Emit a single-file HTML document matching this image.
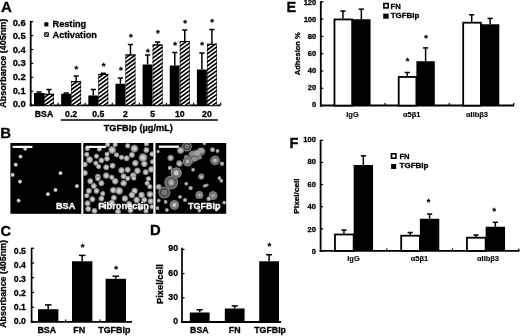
<!DOCTYPE html>
<html><head><meta charset="utf-8"><style>
html,body{margin:0;padding:0;background:#fff;}
body{width:520px;height:336px;overflow:hidden;font-family:"Liberation Sans",sans-serif;}
svg{display:block;}
</style></head><body>
<svg width="520" height="336" viewBox="0 0 520 336">
<defs>
<pattern id="hatch" width="2.9" height="2.9" patternUnits="userSpaceOnUse" patternTransform="rotate(-50)"><rect width="2.9" height="2.9" fill="#fff"/><rect width="2.9" height="1.6" fill="#000"/></pattern>
<pattern id="hatch2" width="2" height="2" patternUnits="userSpaceOnUse" patternTransform="rotate(-45)"><rect width="2" height="2" fill="#fff"/><rect width="2" height="1" fill="#000"/></pattern>
<radialGradient id="cg0"><stop offset="0" stop-color="#e4e4e4"/><stop offset="0.45" stop-color="#d0d0d0"/><stop offset="0.8" stop-color="#707070"/><stop offset="1" stop-color="#606060" stop-opacity="0"/></radialGradient>
<radialGradient id="cg1"><stop offset="0" stop-color="#d8d8d8"/><stop offset="0.4" stop-color="#c0c0c0"/><stop offset="0.75" stop-color="#7c7c7c"/><stop offset="1" stop-color="#6c6c6c" stop-opacity="0"/></radialGradient>
<radialGradient id="cg2"><stop offset="0" stop-color="#cccccc"/><stop offset="0.4" stop-color="#b0b0b0"/><stop offset="0.75" stop-color="#707070"/><stop offset="1" stop-color="#6c6c6c" stop-opacity="0"/></radialGradient>
<filter id="b1" x="-50%" y="-50%" width="200%" height="200%"><feGaussianBlur stdDeviation="0.7"/></filter>
<filter id="b2" x="-50%" y="-50%" width="200%" height="200%"><feGaussianBlur stdDeviation="0.6"/></filter>
</defs>
<rect width="520" height="336" fill="#fff"/>
<g opacity="0.999">
<text x="1" y="11.9" font-size="15" text-anchor="start" fill="#000" stroke="#000" font-family="Liberation Sans, sans-serif" font-weight="bold" stroke-linejoin="round"  stroke-width="0.3">A</text>
<line x1="30.7" y1="20.8" x2="30.7" y2="106.2" stroke="#000" stroke-width="1.8"/>
<line x1="29.8" y1="105.3" x2="220.5" y2="105.3" stroke="#000" stroke-width="1.8"/>
<line x1="30.7" y1="105.1" x2="33.2" y2="105.1" stroke="#000" stroke-width="1.2"/>
<text transform="translate(25.7,107.35) scale(1.08,1)" font-size="8.7" text-anchor="end" fill="#000" stroke="#000" font-family="Liberation Sans, sans-serif" font-weight="bold" stroke-linejoin="round"  stroke-width="0.3">0.0</text>
<line x1="30.7" y1="91.19999999999999" x2="33.2" y2="91.19999999999999" stroke="#000" stroke-width="1.2"/>
<text transform="translate(25.7,93.71) scale(1.08,1)" font-size="8.7" text-anchor="end" fill="#000" stroke="#000" font-family="Liberation Sans, sans-serif" font-weight="bold" stroke-linejoin="round"  stroke-width="0.3">0.1</text>
<line x1="30.7" y1="77.3" x2="33.2" y2="77.3" stroke="#000" stroke-width="1.2"/>
<text transform="translate(25.7,80.07) scale(1.08,1)" font-size="8.7" text-anchor="end" fill="#000" stroke="#000" font-family="Liberation Sans, sans-serif" font-weight="bold" stroke-linejoin="round"  stroke-width="0.3">0.2</text>
<line x1="30.7" y1="63.4" x2="33.2" y2="63.4" stroke="#000" stroke-width="1.2"/>
<text transform="translate(25.7,66.42999999999999) scale(1.08,1)" font-size="8.7" text-anchor="end" fill="#000" stroke="#000" font-family="Liberation Sans, sans-serif" font-weight="bold" stroke-linejoin="round"  stroke-width="0.3">0.3</text>
<line x1="30.7" y1="49.49999999999999" x2="33.2" y2="49.49999999999999" stroke="#000" stroke-width="1.2"/>
<text transform="translate(25.7,52.78999999999999) scale(1.08,1)" font-size="8.7" text-anchor="end" fill="#000" stroke="#000" font-family="Liberation Sans, sans-serif" font-weight="bold" stroke-linejoin="round"  stroke-width="0.3">0.4</text>
<line x1="30.7" y1="35.599999999999994" x2="33.2" y2="35.599999999999994" stroke="#000" stroke-width="1.2"/>
<text transform="translate(25.7,39.14999999999999) scale(1.08,1)" font-size="8.7" text-anchor="end" fill="#000" stroke="#000" font-family="Liberation Sans, sans-serif" font-weight="bold" stroke-linejoin="round"  stroke-width="0.3">0.5</text>
<line x1="30.7" y1="21.700000000000003" x2="33.2" y2="21.700000000000003" stroke="#000" stroke-width="1.2"/>
<text transform="translate(25.7,25.50999999999999) scale(1.08,1)" font-size="8.7" text-anchor="end" fill="#000" stroke="#000" font-family="Liberation Sans, sans-serif" font-weight="bold" stroke-linejoin="round"  stroke-width="0.3">0.6</text>
<text transform="translate(6.2,63.3) rotate(-90) scale(1,1)" font-size="9.0" text-anchor="middle" fill="#000" stroke="#000" stroke-width="0.3" font-family="Liberation Sans, sans-serif" font-weight="bold" stroke-linejoin="round">Absorbance (405nm)</text>
<rect x="34.00" y="93.00" width="10.00" height="12.30" fill="#000"/>
<line x1="39.0" y1="92" x2="39.0" y2="93" stroke="#000" stroke-width="1.5"/>
<line x1="36.4" y1="92" x2="41.6" y2="92" stroke="#000" stroke-width="1.5"/>
<clipPath id="hb0"><rect x="44.00" y="93.75" width="10.00" height="11.55"/></clipPath>
<rect x="44.00" y="93.75" width="10.00" height="11.55" fill="#fff"/>
<path d="M3.83 103.13L54.88 66.04M5.71 105.72L56.76 68.63M7.59 108.31L58.64 71.22M9.47 110.90L60.52 73.81M11.35 113.49L62.40 76.40M13.23 116.08L64.28 78.99M15.11 118.67L66.16 81.58M16.99 121.26L68.04 84.17M18.88 123.84L69.92 86.76M20.76 126.43L71.81 89.34M22.64 129.02L73.69 91.93M24.52 131.61L75.57 94.52M26.40 134.20L77.45 97.11M28.28 136.79L79.33 99.70M30.16 139.38L81.21 102.29M32.04 141.97L83.09 104.88" stroke="#000" stroke-width="1.65" fill="none" clip-path="url(#hb0)"/>
<rect x="44.40" y="94.25" width="9.20" height="11.05" fill="none" stroke="#000" stroke-width="0.5"/>
<line x1="44.00" y1="94.25" x2="54.00" y2="94.25" stroke="#000" stroke-width="1.1"/>
<line x1="49.0" y1="89.5" x2="49.0" y2="93.75" stroke="#000" stroke-width="1.5"/>
<line x1="46.4" y1="89.5" x2="51.6" y2="89.5" stroke="#000" stroke-width="1.5"/>
<text x="44.0" y="116.7" font-size="8.7" text-anchor="middle" fill="#000" stroke="#000" font-family="Liberation Sans, sans-serif" font-weight="bold" stroke-linejoin="round"  stroke-width="0.3">BSA</text>
<rect x="61.15" y="93.75" width="10.00" height="11.55" fill="#000"/>
<line x1="66.15" y1="93" x2="66.15" y2="93.75" stroke="#000" stroke-width="1.5"/>
<line x1="63.550000000000004" y1="93" x2="68.75" y2="93" stroke="#000" stroke-width="1.5"/>
<clipPath id="hb1"><rect x="71.15" y="81.25" width="10.00" height="24.05"/></clipPath>
<rect x="71.15" y="81.25" width="10.00" height="24.05" fill="#fff"/>
<path d="M15.22 102.71L86.50 50.93M17.10 105.30L88.38 53.52M18.98 107.89L90.26 56.11M20.87 110.48L92.14 58.70M22.75 113.07L94.02 61.29M24.63 115.66L95.90 63.87M26.51 118.25L97.78 66.46M28.39 120.84L99.66 69.05M30.27 123.43L101.54 71.64M32.15 126.01L103.43 74.23M34.03 128.60L105.31 76.82M35.91 131.19L107.19 79.41M37.79 133.78L109.07 82.00M39.67 136.37L110.95 84.59M41.56 138.96L112.83 87.17M43.44 141.55L114.71 89.76M45.32 144.14L116.59 92.35M47.20 146.73L118.47 94.94M49.08 149.31L120.35 97.53M50.96 151.90L122.23 100.12M52.84 154.49L124.12 102.71M54.72 157.08L126.00 105.30" stroke="#000" stroke-width="1.65" fill="none" clip-path="url(#hb1)"/>
<rect x="71.55" y="81.75" width="9.20" height="23.55" fill="none" stroke="#000" stroke-width="0.5"/>
<line x1="71.15" y1="81.75" x2="81.15" y2="81.75" stroke="#000" stroke-width="1.1"/>
<line x1="76.15" y1="76" x2="76.15" y2="81.25" stroke="#000" stroke-width="1.5"/>
<line x1="73.55000000000001" y1="76" x2="78.75" y2="76" stroke="#000" stroke-width="1.5"/>
<text x="76.45" y="71.925" font-size="9.5" text-anchor="middle" fill="#000" stroke="#000" font-family="Liberation Sans, sans-serif" font-weight="bold" stroke-linejoin="round"  stroke-width="0.3">*</text>
<text x="71.15" y="116.7" font-size="8.7" text-anchor="middle" fill="#000" stroke="#000" font-family="Liberation Sans, sans-serif" font-weight="bold" stroke-linejoin="round"  stroke-width="0.3">0.2</text>
<rect x="88.30" y="95.50" width="10.00" height="9.80" fill="#000"/>
<line x1="93.3" y1="89.5" x2="93.3" y2="95.5" stroke="#000" stroke-width="1.5"/>
<line x1="90.7" y1="89.5" x2="95.89999999999999" y2="89.5" stroke="#000" stroke-width="1.5"/>
<clipPath id="hb2"><rect x="98.30" y="74.00" width="10.00" height="31.30"/></clipPath>
<rect x="98.30" y="74.00" width="10.00" height="31.30" fill="#fff"/>
<path d="M32.75 101.80L115.75 41.49M34.63 104.39L117.63 44.08M36.51 106.98L119.51 46.67M38.39 109.56L121.39 49.26M40.27 112.15L123.27 51.85M42.15 114.74L125.16 54.44M44.03 117.33L127.04 57.02M45.91 119.92L128.92 59.61M47.79 122.51L130.80 62.20M49.67 125.10L132.68 64.79M51.55 127.69L134.56 67.38M53.44 130.28L136.44 69.97M55.32 132.86L138.32 72.56M57.20 135.45L140.20 75.15M59.08 138.04L142.08 77.74M60.96 140.63L143.96 80.32M62.84 143.22L145.85 82.91M64.72 145.81L147.73 85.50M66.60 148.40L149.61 88.09M68.48 150.99L151.49 90.68M70.36 153.58L153.37 93.27M72.24 156.16L155.25 95.86M74.13 158.75L157.13 98.45M76.01 161.34L159.01 101.04M77.89 163.93L160.89 103.62M79.77 166.52L162.77 106.21" stroke="#000" stroke-width="1.65" fill="none" clip-path="url(#hb2)"/>
<rect x="98.70" y="74.50" width="9.20" height="30.80" fill="none" stroke="#000" stroke-width="0.5"/>
<line x1="98.30" y1="74.50" x2="108.30" y2="74.50" stroke="#000" stroke-width="1.1"/>
<line x1="103.3" y1="73.3" x2="103.3" y2="74" stroke="#000" stroke-width="1.5"/>
<line x1="100.7" y1="73.3" x2="105.89999999999999" y2="73.3" stroke="#000" stroke-width="1.5"/>
<text x="103.6" y="68.925" font-size="9.5" text-anchor="middle" fill="#000" stroke="#000" font-family="Liberation Sans, sans-serif" font-weight="bold" stroke-linejoin="round"  stroke-width="0.3">*</text>
<text x="98.3" y="116.7" font-size="8.7" text-anchor="middle" fill="#000" stroke="#000" font-family="Liberation Sans, sans-serif" font-weight="bold" stroke-linejoin="round"  stroke-width="0.3">0.5</text>
<rect x="115.45" y="83.75" width="10.00" height="21.55" fill="#000"/>
<line x1="120.44999999999999" y1="78" x2="120.44999999999999" y2="83.75" stroke="#000" stroke-width="1.5"/>
<line x1="117.85" y1="78" x2="123.04999999999998" y2="78" stroke="#000" stroke-width="1.5"/>
<clipPath id="hb3"><rect x="125.45" y="54.50" width="10.00" height="50.80"/></clipPath>
<rect x="125.45" y="54.50" width="10.00" height="50.80" fill="#fff"/>
<path d="M34.72 100.32L149.27 17.09M36.60 102.90L151.15 19.67M38.48 105.49L153.03 22.26M40.36 108.08L154.91 24.85M42.24 110.67L156.80 27.44M44.12 113.26L158.68 30.03M46.00 115.85L160.56 32.62M47.88 118.44L162.44 35.21M49.76 121.03L164.32 37.80M51.64 123.62L166.20 40.39M53.52 126.20L168.08 42.97M55.41 128.79L169.96 45.56M57.29 131.38L171.84 48.15M59.17 133.97L173.72 50.74M61.05 136.56L175.60 53.33M62.93 139.15L177.49 55.92M64.81 141.74L179.37 58.51M66.69 144.33L181.25 61.10M68.57 146.92L183.13 63.68M70.45 149.50L185.01 66.27M72.33 152.09L186.89 68.86M74.21 154.68L188.77 71.45M76.10 157.27L190.65 74.04M77.98 159.86L192.53 76.63M79.86 162.45L194.41 79.22M81.74 165.04L196.29 81.81M83.62 167.63L198.18 84.40M85.50 170.21L200.06 86.98M87.38 172.80L201.94 89.57M89.26 175.39L203.82 92.16M91.14 177.98L205.70 94.75M93.02 180.57L207.58 97.34M94.90 183.16L209.46 99.93M96.79 185.75L211.34 102.52M98.67 188.34L213.22 105.11M100.55 190.93L215.10 107.70" stroke="#000" stroke-width="1.65" fill="none" clip-path="url(#hb3)"/>
<rect x="125.85" y="55.00" width="9.20" height="50.30" fill="none" stroke="#000" stroke-width="0.5"/>
<line x1="125.45" y1="55.00" x2="135.45" y2="55.00" stroke="#000" stroke-width="1.1"/>
<line x1="130.45" y1="44.5" x2="130.45" y2="54.5" stroke="#000" stroke-width="1.5"/>
<line x1="127.85" y1="44.5" x2="133.04999999999998" y2="44.5" stroke="#000" stroke-width="1.5"/>
<text x="120.74999999999999" y="73.425" font-size="9.5" text-anchor="middle" fill="#000" stroke="#000" font-family="Liberation Sans, sans-serif" font-weight="bold" stroke-linejoin="round"  stroke-width="0.3">*</text>
<text x="130.75" y="39.925000000000004" font-size="9.5" text-anchor="middle" fill="#000" stroke="#000" font-family="Liberation Sans, sans-serif" font-weight="bold" stroke-linejoin="round"  stroke-width="0.3">*</text>
<text x="125.44999999999999" y="116.7" font-size="8.7" text-anchor="middle" fill="#000" stroke="#000" font-family="Liberation Sans, sans-serif" font-weight="bold" stroke-linejoin="round"  stroke-width="0.3">2</text>
<rect x="142.60" y="64.50" width="10.00" height="40.80" fill="#000"/>
<line x1="147.6" y1="55" x2="147.6" y2="64.5" stroke="#000" stroke-width="1.5"/>
<line x1="145.0" y1="55" x2="150.2" y2="55" stroke="#000" stroke-width="1.5"/>
<clipPath id="hb4"><rect x="152.60" y="44.50" width="10.00" height="60.80"/></clipPath>
<rect x="152.60" y="44.50" width="10.00" height="60.80" fill="#fff"/>
<path d="M48.13 98.43L178.87 3.44M50.01 101.02L180.75 6.03M51.89 103.60L182.63 8.62M53.77 106.19L184.51 11.21M55.66 108.78L186.39 13.80M57.54 111.37L188.27 16.39M59.42 113.96L190.15 18.97M61.30 116.55L192.04 21.56M63.18 119.14L193.92 24.15M65.06 121.73L195.80 26.74M66.94 124.32L197.68 29.33M68.82 126.90L199.56 31.92M70.70 129.49L201.44 34.51M72.58 132.08L203.32 37.10M74.47 134.67L205.20 39.68M76.35 137.26L207.08 42.27M78.23 139.85L208.96 44.86M80.11 142.44L210.84 47.45M81.99 145.03L212.73 50.04M83.87 147.62L214.61 52.63M85.75 150.20L216.49 55.22M87.63 152.79L218.37 57.81M89.51 155.38L220.25 60.40M91.39 157.97L222.13 62.98M93.27 160.56L224.01 65.57M95.16 163.15L225.89 68.16M97.04 165.74L227.77 70.75M98.92 168.33L229.65 73.34M100.80 170.92L231.53 75.93M102.68 173.50L233.42 78.52M104.56 176.09L235.30 81.11M106.44 178.68L237.18 83.70M108.32 181.27L239.06 86.28M110.20 183.86L240.94 88.87M112.08 186.45L242.82 91.46M113.96 189.04L244.70 94.05M115.85 191.63L246.58 96.64M117.73 194.21L248.46 99.23M119.61 196.80L250.34 101.82M121.49 199.39L252.23 104.41M123.37 201.98L254.11 107.00M125.25 204.57L255.99 109.58" stroke="#000" stroke-width="1.65" fill="none" clip-path="url(#hb4)"/>
<rect x="153.00" y="45.00" width="9.20" height="60.30" fill="none" stroke="#000" stroke-width="0.5"/>
<line x1="152.60" y1="45.00" x2="162.60" y2="45.00" stroke="#000" stroke-width="1.1"/>
<line x1="157.6" y1="42" x2="157.6" y2="44.5" stroke="#000" stroke-width="1.5"/>
<line x1="155.0" y1="42" x2="160.2" y2="42" stroke="#000" stroke-width="1.5"/>
<text x="147.9" y="54.925000000000004" font-size="9.5" text-anchor="middle" fill="#000" stroke="#000" font-family="Liberation Sans, sans-serif" font-weight="bold" stroke-linejoin="round"  stroke-width="0.3">*</text>
<text x="157.9" y="36.425000000000004" font-size="9.5" text-anchor="middle" fill="#000" stroke="#000" font-family="Liberation Sans, sans-serif" font-weight="bold" stroke-linejoin="round"  stroke-width="0.3">*</text>
<text x="152.6" y="116.7" font-size="8.7" text-anchor="middle" fill="#000" stroke="#000" font-family="Liberation Sans, sans-serif" font-weight="bold" stroke-linejoin="round"  stroke-width="0.3">5</text>
<rect x="169.75" y="65.50" width="10.00" height="39.80" fill="#000"/>
<line x1="174.75" y1="52.5" x2="174.75" y2="65.5" stroke="#000" stroke-width="1.5"/>
<line x1="172.15" y1="52.5" x2="177.35" y2="52.5" stroke="#000" stroke-width="1.5"/>
<clipPath id="hb5"><rect x="179.75" y="41.00" width="10.00" height="64.30"/></clipPath>
<rect x="179.75" y="41.00" width="10.00" height="64.30" fill="#fff"/>
<path d="M70.57 97.90L206.97 -1.21M72.45 100.48L208.85 1.38M74.33 103.07L210.73 3.97M76.21 105.66L212.61 6.56M78.09 108.25L214.49 9.15M79.97 110.84L216.37 11.74M81.86 113.43L218.26 14.33M83.74 116.02L220.14 16.92M85.62 118.61L222.02 19.51M87.50 121.20L223.90 22.09M89.38 123.78L225.78 24.68M91.26 126.37L227.66 27.27M93.14 128.96L229.54 29.86M95.02 131.55L231.42 32.45M96.90 134.14L233.30 35.04M98.78 136.73L235.18 37.63M100.66 139.32L237.06 40.22M102.55 141.91L238.95 42.81M104.43 144.49L240.83 45.39M106.31 147.08L242.71 47.98M108.19 149.67L244.59 50.57M110.07 152.26L246.47 53.16M111.95 154.85L248.35 55.75M113.83 157.44L250.23 58.34M115.71 160.03L252.11 60.93M117.59 162.62L253.99 63.52M119.47 165.21L255.87 66.11M121.35 167.79L257.75 68.69M123.24 170.38L259.64 71.28M125.12 172.97L261.52 73.87M127.00 175.56L263.40 76.46M128.88 178.15L265.28 79.05M130.76 180.74L267.16 81.64M132.64 183.33L269.04 84.23M134.52 185.92L270.92 86.82M136.40 188.51L272.80 89.40M138.28 191.09L274.68 91.99M140.16 193.68L276.56 94.58M142.04 196.27L278.44 97.17M143.93 198.86L280.33 99.76M145.81 201.45L282.21 102.35M147.69 204.04L284.09 104.94M149.57 206.63L285.97 107.53M151.45 209.22L287.85 110.12" stroke="#000" stroke-width="1.65" fill="none" clip-path="url(#hb5)"/>
<rect x="180.15" y="41.50" width="9.20" height="63.80" fill="none" stroke="#000" stroke-width="0.5"/>
<line x1="179.75" y1="41.50" x2="189.75" y2="41.50" stroke="#000" stroke-width="1.1"/>
<line x1="184.75" y1="30" x2="184.75" y2="41" stroke="#000" stroke-width="1.5"/>
<line x1="182.15" y1="30" x2="187.35" y2="30" stroke="#000" stroke-width="1.5"/>
<text x="175.05" y="48.425000000000004" font-size="9.5" text-anchor="middle" fill="#000" stroke="#000" font-family="Liberation Sans, sans-serif" font-weight="bold" stroke-linejoin="round"  stroke-width="0.3">*</text>
<text x="185.05" y="25.925" font-size="9.5" text-anchor="middle" fill="#000" stroke="#000" font-family="Liberation Sans, sans-serif" font-weight="bold" stroke-linejoin="round"  stroke-width="0.3">*</text>
<text x="179.75" y="116.7" font-size="8.7" text-anchor="middle" fill="#000" stroke="#000" font-family="Liberation Sans, sans-serif" font-weight="bold" stroke-linejoin="round"  stroke-width="0.3">10</text>
<rect x="196.90" y="69.50" width="10.00" height="35.80" fill="#000"/>
<line x1="201.89999999999998" y1="53" x2="201.89999999999998" y2="69.5" stroke="#000" stroke-width="1.5"/>
<line x1="199.29999999999998" y1="53" x2="204.49999999999997" y2="53" stroke="#000" stroke-width="1.5"/>
<clipPath id="hb6"><rect x="206.90" y="43.75" width="10.00" height="61.55"/></clipPath>
<rect x="206.90" y="43.75" width="10.00" height="61.55" fill="#fff"/>
<path d="M101.83 98.87L233.78 3.00M103.71 101.46L235.66 5.59M105.59 104.05L237.54 8.18M107.47 106.63L239.42 10.77M109.35 109.22L241.30 13.36M111.23 111.81L243.18 15.94M113.11 114.40L245.06 18.53M114.99 116.99L246.94 21.12M116.87 119.58L248.82 23.71M118.75 122.17L250.70 26.30M120.63 124.76L252.59 28.89M122.52 127.35L254.47 31.48M124.40 129.93L256.35 34.07M126.28 132.52L258.23 36.66M128.16 135.11L260.11 39.24M130.04 137.70L261.99 41.83M131.92 140.29L263.87 44.42M133.80 142.88L265.75 47.01M135.68 145.47L267.63 49.60M137.56 148.06L269.51 52.19M139.44 150.65L271.39 54.78M141.32 153.23L273.28 57.37M143.21 155.82L275.16 59.95M145.09 158.41L277.04 62.54M146.97 161.00L278.92 65.13M148.85 163.59L280.80 67.72M150.73 166.18L282.68 70.31M152.61 168.77L284.56 72.90M154.49 171.36L286.44 75.49M156.37 173.94L288.32 78.08M158.25 176.53L290.20 80.67M160.13 179.12L292.08 83.25M162.01 181.71L293.97 85.84M163.90 184.30L295.85 88.43M165.78 186.89L297.73 91.02M167.66 189.48L299.61 93.61M169.54 192.07L301.49 96.20M171.42 194.66L303.37 98.79M173.30 197.24L305.25 101.38M175.18 199.83L307.13 103.97M177.06 202.42L309.01 106.55M178.94 205.01L310.89 109.14" stroke="#000" stroke-width="1.65" fill="none" clip-path="url(#hb6)"/>
<rect x="207.30" y="44.25" width="9.20" height="61.05" fill="none" stroke="#000" stroke-width="0.5"/>
<line x1="206.90" y1="44.25" x2="216.90" y2="44.25" stroke="#000" stroke-width="1.1"/>
<line x1="211.89999999999998" y1="29.5" x2="211.89999999999998" y2="43.75" stroke="#000" stroke-width="1.5"/>
<line x1="209.29999999999998" y1="29.5" x2="214.49999999999997" y2="29.5" stroke="#000" stroke-width="1.5"/>
<text x="202.2" y="48.425000000000004" font-size="9.5" text-anchor="middle" fill="#000" stroke="#000" font-family="Liberation Sans, sans-serif" font-weight="bold" stroke-linejoin="round"  stroke-width="0.3">*</text>
<text x="212.2" y="24.925" font-size="9.5" text-anchor="middle" fill="#000" stroke="#000" font-family="Liberation Sans, sans-serif" font-weight="bold" stroke-linejoin="round"  stroke-width="0.3">*</text>
<text x="206.89999999999998" y="116.7" font-size="8.7" text-anchor="middle" fill="#000" stroke="#000" font-family="Liberation Sans, sans-serif" font-weight="bold" stroke-linejoin="round"  stroke-width="0.3">20</text>
<line x1="31.0" y1="105.3" x2="31.0" y2="102.8" stroke="#000" stroke-width="1.2"/>
<line x1="58.1" y1="105.3" x2="58.1" y2="102.8" stroke="#000" stroke-width="1.2"/>
<line x1="85.2" y1="105.3" x2="85.2" y2="102.8" stroke="#000" stroke-width="1.2"/>
<line x1="112.30000000000001" y1="105.3" x2="112.30000000000001" y2="102.8" stroke="#000" stroke-width="1.2"/>
<line x1="139.4" y1="105.3" x2="139.4" y2="102.8" stroke="#000" stroke-width="1.2"/>
<line x1="166.5" y1="105.3" x2="166.5" y2="102.8" stroke="#000" stroke-width="1.2"/>
<line x1="193.60000000000002" y1="105.3" x2="193.60000000000002" y2="102.8" stroke="#000" stroke-width="1.2"/>
<line x1="220.70000000000002" y1="105.3" x2="220.70000000000002" y2="102.8" stroke="#000" stroke-width="1.2"/>
<line x1="61" y1="120.0" x2="218" y2="120.0" stroke="#000" stroke-width="1.5"/>
<text x="138.3" y="131" font-size="9.2" text-anchor="middle" fill="#000" stroke="#000" font-family="Liberation Sans, sans-serif" font-weight="bold" stroke-linejoin="round"  stroke-width="0.3">TGFBIp (µg/mL)</text>
<rect x="44.30" y="22.30" width="4.10" height="4.10" fill="#000"/>
<text x="52.5" y="27.3" font-size="9.2" text-anchor="start" fill="#000" stroke="#000" font-family="Liberation Sans, sans-serif" font-weight="bold" stroke-linejoin="round"  stroke-width="0.3">Resting</text>
<rect x="44.70" y="32.70" width="3.70" height="3.70" fill="url(#hatch2)" stroke="#000" stroke-width="0.8"/>
<text x="52.5" y="37.6" font-size="9.2" text-anchor="start" fill="#000" stroke="#000" font-family="Liberation Sans, sans-serif" font-weight="bold" stroke-linejoin="round"  stroke-width="0.3">Activation</text>
<text x="0.2" y="138.2" font-size="15" text-anchor="start" fill="#000" stroke="#000" font-family="Liberation Sans, sans-serif" font-weight="bold" stroke-linejoin="round"  stroke-width="0.3">B</text>
<clipPath id="cp0"><rect x="10.4" y="143" width="70.9" height="70.8"/></clipPath>
<rect x="10.40" y="143.00" width="70.90" height="70.80" fill="#000"/>
<clipPath id="cp1"><rect x="83.3" y="143" width="70" height="70.8"/></clipPath>
<rect x="83.30" y="143.00" width="70.00" height="70.80" fill="#000"/>
<clipPath id="cp2"><rect x="155.5" y="143" width="70.7" height="70.8"/></clipPath>
<rect x="155.50" y="143.00" width="70.70" height="70.80" fill="#000"/>
<circle cx="25.2" cy="148.7" r="2.42" fill="url(#cg0)" clip-path="url(#cp0)"/>
<circle cx="20.5" cy="156.6" r="2.42" fill="url(#cg0)" clip-path="url(#cp0)"/>
<circle cx="15.7" cy="164.7" r="2.42" fill="url(#cg0)" clip-path="url(#cp0)"/>
<circle cx="12.6" cy="174.9" r="2.42" fill="url(#cg0)" clip-path="url(#cp0)"/>
<circle cx="20" cy="181.6" r="2.42" fill="url(#cg0)" clip-path="url(#cp0)"/>
<circle cx="60.5" cy="173.2" r="2.42" fill="url(#cg0)" clip-path="url(#cp0)"/>
<circle cx="76.9" cy="186.1" r="2.42" fill="url(#cg0)" clip-path="url(#cp0)"/>
<circle cx="55.5" cy="189.9" r="2.42" fill="url(#cg0)" clip-path="url(#cp0)"/>
<circle cx="47.9" cy="194.2" r="2.42" fill="url(#cg0)" clip-path="url(#cp0)"/>
<circle cx="18.6" cy="200.6" r="2.42" fill="url(#cg0)" clip-path="url(#cp0)"/>
<circle cx="87.3" cy="148.6" r="2.99" fill="url(#cg1)" clip-path="url(#cp1)"/>
<circle cx="99.3" cy="149" r="2.99" fill="url(#cg1)" clip-path="url(#cp1)"/>
<circle cx="112.2" cy="150" r="4.49" fill="url(#cg1)" clip-path="url(#cp1)"/>
<circle cx="107.6" cy="144.5" r="2.99" fill="url(#cg1)" clip-path="url(#cp1)"/>
<circle cx="115.2" cy="144.5" r="2.99" fill="url(#cg1)" clip-path="url(#cp1)"/>
<circle cx="127.7" cy="145.8" r="2.99" fill="url(#cg1)" clip-path="url(#cp1)"/>
<circle cx="134.4" cy="148.6" r="4.49" fill="url(#cg1)" clip-path="url(#cp1)"/>
<circle cx="146.4" cy="143.8" r="2.99" fill="url(#cg1)" clip-path="url(#cp1)"/>
<circle cx="146.4" cy="150" r="3.44" fill="url(#cg1)" clip-path="url(#cp1)"/>
<circle cx="152" cy="154" r="2.99" fill="url(#cg1)" clip-path="url(#cp1)"/>
<circle cx="86.8" cy="154.4" r="2.99" fill="url(#cg1)" clip-path="url(#cp1)"/>
<circle cx="96.5" cy="156.2" r="2.99" fill="url(#cg1)" clip-path="url(#cp1)"/>
<circle cx="107" cy="154.2" r="2.99" fill="url(#cg1)" clip-path="url(#cp1)"/>
<circle cx="116.6" cy="154.9" r="2.99" fill="url(#cg1)" clip-path="url(#cp1)"/>
<circle cx="121.5" cy="157.3" r="2.99" fill="url(#cg1)" clip-path="url(#cp1)"/>
<circle cx="126.6" cy="158.3" r="3.44" fill="url(#cg1)" clip-path="url(#cp1)"/>
<circle cx="131.9" cy="154.9" r="3.44" fill="url(#cg1)" clip-path="url(#cp1)"/>
<circle cx="143" cy="157.6" r="4.93" fill="url(#cg1)" clip-path="url(#cp1)"/>
<circle cx="89.6" cy="159.7" r="4.04" fill="url(#cg1)" clip-path="url(#cp1)"/>
<circle cx="101.4" cy="160.4" r="3.29" fill="url(#cg1)" clip-path="url(#cp1)"/>
<circle cx="107" cy="158.7" r="3.29" fill="url(#cg1)" clip-path="url(#cp1)"/>
<circle cx="84.8" cy="164.5" r="3.29" fill="url(#cg1)" clip-path="url(#cp1)"/>
<circle cx="95.9" cy="163.2" r="2.99" fill="url(#cg1)" clip-path="url(#cp1)"/>
<circle cx="98.6" cy="166.6" r="2.99" fill="url(#cg1)" clip-path="url(#cp1)"/>
<circle cx="106.2" cy="167.3" r="3.44" fill="url(#cg1)" clip-path="url(#cp1)"/>
<circle cx="112.5" cy="165.7" r="3.44" fill="url(#cg1)" clip-path="url(#cp1)"/>
<circle cx="135.3" cy="163.2" r="3.74" fill="url(#cg1)" clip-path="url(#cp1)"/>
<circle cx="144.3" cy="163.9" r="3.74" fill="url(#cg1)" clip-path="url(#cp1)"/>
<circle cx="152.6" cy="161.8" r="2.99" fill="url(#cg1)" clip-path="url(#cp1)"/>
<circle cx="121.5" cy="170.4" r="3.74" fill="url(#cg1)" clip-path="url(#cp1)"/>
<circle cx="127.7" cy="169.8" r="3.44" fill="url(#cg1)" clip-path="url(#cp1)"/>
<circle cx="137.4" cy="170.8" r="3.74" fill="url(#cg1)" clip-path="url(#cp1)"/>
<circle cx="145.7" cy="172.2" r="3.44" fill="url(#cg1)" clip-path="url(#cp1)"/>
<circle cx="151.3" cy="169.4" r="3.74" fill="url(#cg1)" clip-path="url(#cp1)"/>
<circle cx="84.8" cy="172.9" r="3.44" fill="url(#cg1)" clip-path="url(#cp1)"/>
<circle cx="97.9" cy="176.7" r="3.44" fill="url(#cg1)" clip-path="url(#cp1)"/>
<circle cx="106.2" cy="175.6" r="3.74" fill="url(#cg1)" clip-path="url(#cp1)"/>
<circle cx="111.8" cy="177.3" r="2.99" fill="url(#cg1)" clip-path="url(#cp1)"/>
<circle cx="123.6" cy="176.3" r="3.44" fill="url(#cg1)" clip-path="url(#cp1)"/>
<circle cx="133.2" cy="175.6" r="3.74" fill="url(#cg1)" clip-path="url(#cp1)"/>
<circle cx="90.3" cy="181.2" r="3.44" fill="url(#cg1)" clip-path="url(#cp1)"/>
<circle cx="97.9" cy="178.7" r="2.99" fill="url(#cg1)" clip-path="url(#cp1)"/>
<circle cx="101.4" cy="183.2" r="3.44" fill="url(#cg1)" clip-path="url(#cp1)"/>
<circle cx="115.2" cy="181.2" r="3.74" fill="url(#cg1)" clip-path="url(#cp1)"/>
<circle cx="123.6" cy="183.2" r="3.74" fill="url(#cg1)" clip-path="url(#cp1)"/>
<circle cx="127.7" cy="178.4" r="2.99" fill="url(#cg1)" clip-path="url(#cp1)"/>
<circle cx="133.9" cy="178.1" r="2.99" fill="url(#cg1)" clip-path="url(#cp1)"/>
<circle cx="148.5" cy="178.7" r="2.99" fill="url(#cg1)" clip-path="url(#cp1)"/>
<circle cx="147.1" cy="183.2" r="2.99" fill="url(#cg1)" clip-path="url(#cp1)"/>
<circle cx="149.9" cy="186.7" r="2.99" fill="url(#cg1)" clip-path="url(#cp1)"/>
<circle cx="93.8" cy="186" r="3.44" fill="url(#cg1)" clip-path="url(#cp1)"/>
<circle cx="88.9" cy="190.9" r="3.44" fill="url(#cg1)" clip-path="url(#cp1)"/>
<circle cx="96.5" cy="190.9" r="3.44" fill="url(#cg1)" clip-path="url(#cp1)"/>
<circle cx="102.8" cy="193.6" r="2.99" fill="url(#cg1)" clip-path="url(#cp1)"/>
<circle cx="113.2" cy="190.2" r="3.74" fill="url(#cg1)" clip-path="url(#cp1)"/>
<circle cx="119.1" cy="190.9" r="4.49" fill="url(#cg1)" clip-path="url(#cp1)"/>
<circle cx="134.6" cy="190.9" r="3.74" fill="url(#cg1)" clip-path="url(#cp1)"/>
<circle cx="131.9" cy="195" r="3.74" fill="url(#cg1)" clip-path="url(#cp1)"/>
<circle cx="141.6" cy="195" r="3.74" fill="url(#cg1)" clip-path="url(#cp1)"/>
<circle cx="149.9" cy="194.3" r="3.74" fill="url(#cg1)" clip-path="url(#cp1)"/>
<circle cx="86.8" cy="195.7" r="2.99" fill="url(#cg1)" clip-path="url(#cp1)"/>
<circle cx="92.4" cy="199.2" r="3.44" fill="url(#cg1)" clip-path="url(#cp1)"/>
<circle cx="101.4" cy="198.5" r="3.44" fill="url(#cg1)" clip-path="url(#cp1)"/>
<circle cx="113.9" cy="197.8" r="3.44" fill="url(#cg1)" clip-path="url(#cp1)"/>
<circle cx="124.9" cy="198.5" r="3.74" fill="url(#cg1)" clip-path="url(#cp1)"/>
<circle cx="136.7" cy="199.9" r="3.74" fill="url(#cg1)" clip-path="url(#cp1)"/>
<circle cx="144.3" cy="199.9" r="3.44" fill="url(#cg1)" clip-path="url(#cp1)"/>
<circle cx="150.6" cy="201.2" r="3.44" fill="url(#cg1)" clip-path="url(#cp1)"/>
<circle cx="87.5" cy="203.3" r="3.44" fill="url(#cg1)" clip-path="url(#cp1)"/>
<circle cx="88.2" cy="208.9" r="3.44" fill="url(#cg1)" clip-path="url(#cp1)"/>
<circle cx="94.5" cy="210.9" r="3.44" fill="url(#cg1)" clip-path="url(#cp1)"/>
<circle cx="111.8" cy="202.6" r="3.44" fill="url(#cg1)" clip-path="url(#cp1)"/>
<circle cx="129.1" cy="204" r="3.44" fill="url(#cg1)" clip-path="url(#cp1)"/>
<circle cx="152" cy="206.8" r="2.99" fill="url(#cg1)" clip-path="url(#cp1)"/>
<circle cx="130.5" cy="210.2" r="3.44" fill="url(#cg1)" clip-path="url(#cp1)"/>
<circle cx="118" cy="211.6" r="3.44" fill="url(#cg1)" clip-path="url(#cp1)"/>
<circle cx="104" cy="206" r="2.99" fill="url(#cg1)" clip-path="url(#cp1)"/>
<circle cx="140" cy="208" r="3.29" fill="url(#cg1)" clip-path="url(#cp1)"/>
<circle cx="146" cy="211" r="2.99" fill="url(#cg1)" clip-path="url(#cp1)"/>
<ellipse cx="189.5" cy="159.5" rx="5.5" ry="5" transform="rotate(0 189.5 159.5)" fill="#565656" clip-path="url(#cp2)" filter="url(#b2)"/>
<ellipse cx="195.5" cy="155.5" rx="6.5" ry="5.5" transform="rotate(-30 195.5 155.5)" fill="#666666" clip-path="url(#cp2)" filter="url(#b2)"/>
<ellipse cx="201" cy="151.5" rx="4.5" ry="4" transform="rotate(0 201 151.5)" fill="#6c6c6c" clip-path="url(#cp2)" filter="url(#b2)"/>
<ellipse cx="192" cy="153.5" rx="3" ry="2.6" transform="rotate(0 192 153.5)" fill="#8a8a8a" clip-path="url(#cp2)" filter="url(#b2)"/>
<ellipse cx="197" cy="153" rx="3.2" ry="2.6" transform="rotate(0 197 153)" fill="#a4a4a4" clip-path="url(#cp2)" filter="url(#b2)"/>
<ellipse cx="201.5" cy="150.5" rx="2.8" ry="2.4" transform="rotate(0 201.5 150.5)" fill="#a0a0a0" clip-path="url(#cp2)" filter="url(#b2)"/>
<ellipse cx="194.5" cy="159" rx="2.8" ry="2.3" transform="rotate(0 194.5 159)" fill="#8c8c8c" clip-path="url(#cp2)" filter="url(#b2)"/>
<ellipse cx="199.5" cy="157.5" rx="2.4" ry="2" transform="rotate(0 199.5 157.5)" fill="#848484" clip-path="url(#cp2)" filter="url(#b2)"/>
<ellipse cx="186" cy="157" rx="2.2" ry="2" transform="rotate(0 186 157)" fill="#7a7a7a" clip-path="url(#cp2)" filter="url(#b2)"/>
<g clip-path="url(#cp2)" filter="url(#b2)"><circle cx="186.9" cy="146.6" r="5" fill="#3c3c3c"/><circle cx="186.9" cy="146.6" r="4.3" fill="none" stroke="#7c7c7c" stroke-width="1.1"/><circle cx="186.9" cy="146.6" r="2.4" fill="#808080"/><circle cx="186.9" cy="146.6" r="1.2" fill="#5a5a5a"/></g>
<g clip-path="url(#cp2)" filter="url(#b2)"><circle cx="187.5" cy="161.6" r="4.8" fill="#4c4c4c"/><circle cx="187.5" cy="161.6" r="4.1" fill="none" stroke="#8c8c8c" stroke-width="1.1"/><circle cx="187.5" cy="161.6" r="3.0" fill="#808080"/><circle cx="187.5" cy="161.6" r="1.8" fill="#b0b0b0"/></g>
<g clip-path="url(#cp2)" filter="url(#b2)"><circle cx="176.25" cy="172.9" r="5.6" fill="#5a5a5a"/><circle cx="176.25" cy="172.9" r="4.8999999999999995" fill="none" stroke="#909090" stroke-width="1.1"/><circle cx="176.25" cy="172.9" r="3.5999999999999996" fill="#808080"/><circle cx="176.25" cy="172.9" r="2.4" fill="#c8c8c8"/></g>
<g clip-path="url(#cp2)" filter="url(#b2)"><circle cx="215" cy="160.4" r="4.8" fill="#505050"/><circle cx="215" cy="160.4" r="4.1" fill="none" stroke="#808080" stroke-width="1.1"/><circle cx="215" cy="160.4" r="3.0" fill="#808080"/><circle cx="215" cy="160.4" r="1.8" fill="#b8b8b8"/></g>
<g clip-path="url(#cp2)" filter="url(#b2)"><circle cx="171.25" cy="182.5" r="6.9" fill="#5a5a5a"/><circle cx="171.25" cy="182.5" r="6.2" fill="none" stroke="#7c7c7c" stroke-width="1.1"/><circle cx="171.25" cy="182.5" r="3.4000000000000004" fill="#808080"/><circle cx="171.25" cy="182.5" r="2.2" fill="#b0b0b0"/></g>
<g clip-path="url(#cp2)" filter="url(#b2)"><circle cx="164.4" cy="192.5" r="6" fill="#484848"/><circle cx="164.4" cy="192.5" r="5.3" fill="none" stroke="#7a7a7a" stroke-width="1.1"/><circle cx="164.4" cy="192.5" r="2.8" fill="#808080"/><circle cx="164.4" cy="192.5" r="1.6" fill="#707070"/></g>
<g clip-path="url(#cp2)" filter="url(#b2)"><circle cx="199.4" cy="195" r="4" fill="#5c5c5c"/><circle cx="199.4" cy="195" r="3.3" fill="none" stroke="#808080" stroke-width="1.1"/><circle cx="199.4" cy="195" r="2.8" fill="#808080"/><circle cx="199.4" cy="195" r="1.6" fill="#a8a8a8"/></g>
<g clip-path="url(#cp2)" filter="url(#b2)"><circle cx="213.1" cy="195.6" r="4.4" fill="#5c5c5c"/><circle cx="213.1" cy="195.6" r="3.7" fill="none" stroke="#808080" stroke-width="1.1"/><circle cx="213.1" cy="195.6" r="2.8" fill="#808080"/><circle cx="213.1" cy="195.6" r="1.6" fill="#a8a8a8"/></g>
<g clip-path="url(#cp2)" filter="url(#b2)"><circle cx="174.4" cy="205" r="4.8" fill="#5a5a5a"/><circle cx="174.4" cy="205" r="4.1" fill="none" stroke="#808080" stroke-width="1.1"/><circle cx="174.4" cy="205" r="3.2" fill="#808080"/><circle cx="174.4" cy="205" r="2" fill="#c0c0c0"/></g>
<g clip-path="url(#cp2)" filter="url(#b2)"><circle cx="201.25" cy="176.6" r="3" fill="#606060"/><circle cx="201.25" cy="176.6" r="2.3" fill="none" stroke="#909090" stroke-width="1.1"/><circle cx="201.25" cy="176.6" r="2.4" fill="#808080"/><circle cx="201.25" cy="176.6" r="1.2" fill="#b0b0b0"/></g>
<circle cx="158.1" cy="151.6" r="2.07" fill="url(#cg2)" clip-path="url(#cp2)"/>
<circle cx="170.6" cy="157.9" r="3.68" fill="url(#cg2)" clip-path="url(#cp2)"/>
<circle cx="179.4" cy="163.5" r="3.79" fill="url(#cg2)" clip-path="url(#cp2)"/>
<circle cx="170" cy="167.9" r="2.76" fill="url(#cg2)" clip-path="url(#cp2)"/>
<circle cx="180.6" cy="150.4" r="4.14" fill="url(#cg2)" clip-path="url(#cp2)"/>
<circle cx="193.1" cy="169.75" r="2.30" fill="url(#cg2)" clip-path="url(#cp2)"/>
<circle cx="222" cy="163.7" r="2.64" fill="url(#cg2)" clip-path="url(#cp2)"/>
<circle cx="212.5" cy="149.75" r="2.88" fill="url(#cg2)" clip-path="url(#cp2)"/>
<circle cx="217.5" cy="151" r="2.30" fill="url(#cg2)" clip-path="url(#cp2)"/>
<circle cx="204.4" cy="143.5" r="2.07" fill="url(#cg2)" clip-path="url(#cp2)"/>
<circle cx="158.75" cy="186.9" r="3.45" fill="url(#cg2)" clip-path="url(#cp2)"/>
<circle cx="186.25" cy="183.75" r="2.30" fill="url(#cg2)" clip-path="url(#cp2)"/>
<circle cx="190.6" cy="188.1" r="2.53" fill="url(#cg2)" clip-path="url(#cp2)"/>
<circle cx="201.25" cy="176.9" r="2.64" fill="url(#cg2)" clip-path="url(#cp2)"/>
<circle cx="221.3" cy="180.7" r="2.30" fill="url(#cg2)" clip-path="url(#cp2)"/>
<circle cx="208.75" cy="198.75" r="2.76" fill="url(#cg2)" clip-path="url(#cp2)"/>
<circle cx="180" cy="196.9" r="2.30" fill="url(#cg2)" clip-path="url(#cp2)"/>
<circle cx="185" cy="200" r="2.53" fill="url(#cg2)" clip-path="url(#cp2)"/>
<circle cx="158.75" cy="200.6" r="2.30" fill="url(#cg2)" clip-path="url(#cp2)"/>
<circle cx="165.6" cy="201.9" r="2.30" fill="url(#cg2)" clip-path="url(#cp2)"/>
<circle cx="166.9" cy="210" r="2.30" fill="url(#cg2)" clip-path="url(#cp2)"/>
<circle cx="157.5" cy="208.1" r="2.30" fill="url(#cg2)" clip-path="url(#cp2)"/>
<circle cx="224.2" cy="202.6" r="2.30" fill="url(#cg2)" clip-path="url(#cp2)"/>
<circle cx="216.9" cy="209.2" r="2.30" fill="url(#cg2)" clip-path="url(#cp2)"/>
<circle cx="199.3" cy="210.6" r="2.30" fill="url(#cg2)" clip-path="url(#cp2)"/>
<circle cx="219.4" cy="178.1" r="2.30" fill="url(#cg2)" clip-path="url(#cp2)"/>
<ellipse cx="205.6" cy="185.6" rx="3" ry="1.5" transform="rotate(-20 205.6 185.6)" fill="#b0b0b0" clip-path="url(#cp2)" filter="url(#b2)"/>
<rect x="12.60" y="145.80" width="19.80" height="2.20" fill="#fff"/>
<rect x="86.00" y="145.80" width="19.80" height="2.20" fill="#fff"/>
<rect x="158.80" y="145.60" width="20.00" height="2.20" fill="#fff"/>
<text x="65.6" y="209.1" font-size="9.2" text-anchor="middle" fill="#fff" stroke="#fff" font-family="Liberation Sans, sans-serif" font-weight="bold" stroke-linejoin="round"  stroke-width="0.3">BSA</text>
<text x="123.6" y="208.9" font-size="9.3" text-anchor="middle" fill="#fff" stroke="#fff" font-family="Liberation Sans, sans-serif" font-weight="bold" stroke-linejoin="round"  stroke-width="0.3">Fibronectin</text>
<text x="204.2" y="208.9" font-size="9.0" text-anchor="middle" fill="#fff" stroke="#fff" font-family="Liberation Sans, sans-serif" font-weight="bold" stroke-linejoin="round"  stroke-width="0.3">TGFBIp</text>
<text x="0.5" y="235.8" font-size="14.6" text-anchor="start" fill="#000" stroke="#000" font-family="Liberation Sans, sans-serif" font-weight="bold" stroke-linejoin="round"  stroke-width="0.3">C</text>
<line x1="31.6" y1="247.7" x2="31.6" y2="322.79999999999995" stroke="#000" stroke-width="1.7"/>
<line x1="30.75" y1="321.9" x2="132" y2="321.9" stroke="#000" stroke-width="1.8"/>
<line x1="31.6" y1="321.9" x2="34.1" y2="321.9" stroke="#000" stroke-width="1.2"/>
<text x="25.9" y="324.0" font-size="8.7" text-anchor="end" fill="#000" stroke="#000" font-family="Liberation Sans, sans-serif" font-weight="bold" stroke-linejoin="round"  stroke-width="0.3">0.0</text>
<line x1="31.6" y1="307.17999999999995" x2="34.1" y2="307.17999999999995" stroke="#000" stroke-width="1.2"/>
<text x="25.9" y="309.92" font-size="8.7" text-anchor="end" fill="#000" stroke="#000" font-family="Liberation Sans, sans-serif" font-weight="bold" stroke-linejoin="round"  stroke-width="0.3">0.1</text>
<line x1="31.6" y1="292.46" x2="34.1" y2="292.46" stroke="#000" stroke-width="1.2"/>
<text x="25.9" y="295.84" font-size="8.7" text-anchor="end" fill="#000" stroke="#000" font-family="Liberation Sans, sans-serif" font-weight="bold" stroke-linejoin="round"  stroke-width="0.3">0.2</text>
<line x1="31.6" y1="277.74" x2="34.1" y2="277.74" stroke="#000" stroke-width="1.2"/>
<text x="25.9" y="281.76" font-size="8.7" text-anchor="end" fill="#000" stroke="#000" font-family="Liberation Sans, sans-serif" font-weight="bold" stroke-linejoin="round"  stroke-width="0.3">0.3</text>
<line x1="31.6" y1="263.02" x2="34.1" y2="263.02" stroke="#000" stroke-width="1.2"/>
<text x="25.9" y="267.68" font-size="8.7" text-anchor="end" fill="#000" stroke="#000" font-family="Liberation Sans, sans-serif" font-weight="bold" stroke-linejoin="round"  stroke-width="0.3">0.4</text>
<line x1="31.6" y1="248.29999999999998" x2="34.1" y2="248.29999999999998" stroke="#000" stroke-width="1.2"/>
<text x="25.9" y="253.6" font-size="8.7" text-anchor="end" fill="#000" stroke="#000" font-family="Liberation Sans, sans-serif" font-weight="bold" stroke-linejoin="round"  stroke-width="0.3">0.5</text>
<text transform="translate(6.3,283.9) rotate(-90) scale(1,1)" font-size="8.9" text-anchor="middle" fill="#000" stroke="#000" stroke-width="0.3" font-family="Liberation Sans, sans-serif" font-weight="bold" stroke-linejoin="round">Absorbance (405nm)</text>
<rect x="38.00" y="309.20" width="20.40" height="12.70" fill="#000"/>
<line x1="48.2" y1="304.9" x2="48.2" y2="309.2" stroke="#000" stroke-width="1.5"/>
<line x1="44.900000000000006" y1="304.9" x2="51.5" y2="304.9" stroke="#000" stroke-width="1.5"/>
<text x="46.75" y="332.6" font-size="8.9" text-anchor="middle" fill="#000" stroke="#000" font-family="Liberation Sans, sans-serif" font-weight="bold" stroke-linejoin="round"  stroke-width="0.3">BSA</text>
<rect x="72.00" y="261.30" width="20.40" height="60.60" fill="#000"/>
<line x1="82.2" y1="255.4" x2="82.2" y2="261.3" stroke="#000" stroke-width="1.5"/>
<line x1="78.9" y1="255.4" x2="85.5" y2="255.4" stroke="#000" stroke-width="1.5"/>
<text x="82.5" y="250.42499999999998" font-size="9.5" text-anchor="middle" fill="#000" stroke="#000" font-family="Liberation Sans, sans-serif" font-weight="bold" stroke-linejoin="round"  stroke-width="0.3">*</text>
<text x="79.2" y="332.6" font-size="8.9" text-anchor="middle" fill="#000" stroke="#000" font-family="Liberation Sans, sans-serif" font-weight="bold" stroke-linejoin="round"  stroke-width="0.3">FN</text>
<rect x="105.60" y="278.80" width="20.40" height="43.10" fill="#000"/>
<line x1="115.8" y1="276.2" x2="115.8" y2="278.8" stroke="#000" stroke-width="1.5"/>
<line x1="112.5" y1="276.2" x2="119.1" y2="276.2" stroke="#000" stroke-width="1.5"/>
<text x="116.1" y="271.725" font-size="9.5" text-anchor="middle" fill="#000" stroke="#000" font-family="Liberation Sans, sans-serif" font-weight="bold" stroke-linejoin="round"  stroke-width="0.3">*</text>
<text x="114.3" y="332.6" font-size="8.9" text-anchor="middle" fill="#000" stroke="#000" font-family="Liberation Sans, sans-serif" font-weight="bold" stroke-linejoin="round"  stroke-width="0.3">TGFBIp</text>
<line x1="31.6" y1="321.9" x2="31.6" y2="319.4" stroke="#000" stroke-width="1.2"/>
<line x1="65.6" y1="321.9" x2="65.6" y2="319.4" stroke="#000" stroke-width="1.2"/>
<line x1="100" y1="321.9" x2="100" y2="319.4" stroke="#000" stroke-width="1.2"/>
<text x="150.1" y="235.0" font-size="14.8" text-anchor="start" fill="#000" stroke="#000" font-family="Liberation Sans, sans-serif" font-weight="bold" stroke-linejoin="round"  stroke-width="0.3">D</text>
<line x1="182.0" y1="247.7" x2="182.0" y2="322.9" stroke="#000" stroke-width="1.7"/>
<line x1="181.15" y1="322.0" x2="281" y2="322.0" stroke="#000" stroke-width="1.8"/>
<line x1="182.0" y1="322.0" x2="184.5" y2="322.0" stroke="#000" stroke-width="1.2"/>
<text x="178" y="324.1" font-size="8.7" text-anchor="end" fill="#000" stroke="#000" font-family="Liberation Sans, sans-serif" font-weight="bold" stroke-linejoin="round"  stroke-width="0.3">0</text>
<line x1="182.0" y1="297.8" x2="184.5" y2="297.8" stroke="#000" stroke-width="1.2"/>
<text x="178" y="299.899" font-size="8.7" text-anchor="end" fill="#000" stroke="#000" font-family="Liberation Sans, sans-serif" font-weight="bold" stroke-linejoin="round"  stroke-width="0.3">30</text>
<line x1="182.0" y1="273.6" x2="184.5" y2="273.6" stroke="#000" stroke-width="1.2"/>
<text x="178" y="275.69800000000004" font-size="8.7" text-anchor="end" fill="#000" stroke="#000" font-family="Liberation Sans, sans-serif" font-weight="bold" stroke-linejoin="round"  stroke-width="0.3">60</text>
<line x1="182.0" y1="249.4" x2="184.5" y2="249.4" stroke="#000" stroke-width="1.2"/>
<text x="178" y="251.49699999999999" font-size="8.7" text-anchor="end" fill="#000" stroke="#000" font-family="Liberation Sans, sans-serif" font-weight="bold" stroke-linejoin="round"  stroke-width="0.3">90</text>
<text transform="translate(162.8,284.1) rotate(-90) scale(1.1,1)" font-size="8.5" text-anchor="middle" fill="#000" stroke="#000" stroke-width="0.3" font-family="Liberation Sans, sans-serif" font-weight="bold" stroke-linejoin="round">Pixel/cell</text>
<rect x="189.80" y="312.50" width="19.80" height="9.50" fill="#000"/>
<line x1="199.70000000000002" y1="309.8" x2="199.70000000000002" y2="312.5" stroke="#000" stroke-width="1.5"/>
<line x1="196.70000000000002" y1="309.8" x2="202.70000000000002" y2="309.8" stroke="#000" stroke-width="1.5"/>
<text x="199.4" y="332.7" font-size="8.8" text-anchor="middle" fill="#000" stroke="#000" font-family="Liberation Sans, sans-serif" font-weight="bold" stroke-linejoin="round"  stroke-width="0.3">BSA</text>
<rect x="224.80" y="308.50" width="19.80" height="13.50" fill="#000"/>
<line x1="234.70000000000002" y1="305.9" x2="234.70000000000002" y2="308.5" stroke="#000" stroke-width="1.5"/>
<line x1="231.70000000000002" y1="305.9" x2="237.70000000000002" y2="305.9" stroke="#000" stroke-width="1.5"/>
<text x="234.70000000000002" y="332.7" font-size="8.8" text-anchor="middle" fill="#000" stroke="#000" font-family="Liberation Sans, sans-serif" font-weight="bold" stroke-linejoin="round"  stroke-width="0.3">FN</text>
<rect x="259.20" y="261.30" width="19.80" height="60.70" fill="#000"/>
<line x1="269.09999999999997" y1="254.7" x2="269.09999999999997" y2="261.3" stroke="#000" stroke-width="1.5"/>
<line x1="266.09999999999997" y1="254.7" x2="272.09999999999997" y2="254.7" stroke="#000" stroke-width="1.5"/>
<text x="269.4" y="249.42499999999998" font-size="9.5" text-anchor="middle" fill="#000" stroke="#000" font-family="Liberation Sans, sans-serif" font-weight="bold" stroke-linejoin="round"  stroke-width="0.3">*</text>
<text x="270.09999999999997" y="332.7" font-size="8.8" text-anchor="middle" fill="#000" stroke="#000" font-family="Liberation Sans, sans-serif" font-weight="bold" stroke-linejoin="round"  stroke-width="0.3">TGFBIp</text>
<text x="286.6" y="11.6" font-size="14.6" text-anchor="start" fill="#000" stroke="#000" font-family="Liberation Sans, sans-serif" font-weight="bold" stroke-linejoin="round"  stroke-width="0.3">E</text>
<line x1="320.8" y1="1.3" x2="320.8" y2="106.55" stroke="#000" stroke-width="1.8"/>
<line x1="319.90000000000003" y1="105.6" x2="514.1" y2="105.6" stroke="#000" stroke-width="2.0"/>
<line x1="320.8" y1="105.6" x2="323.3" y2="105.6" stroke="#000" stroke-width="1.2"/>
<text x="316.3" y="107.2" font-size="7.6" text-anchor="end" fill="#000" stroke="#000" font-family="Liberation Sans, sans-serif" font-weight="bold" stroke-linejoin="round"  stroke-width="0.3">0</text>
<line x1="320.8" y1="88.3" x2="323.3" y2="88.3" stroke="#000" stroke-width="1.2"/>
<text x="316.3" y="90.208" font-size="7.6" text-anchor="end" fill="#000" stroke="#000" font-family="Liberation Sans, sans-serif" font-weight="bold" stroke-linejoin="round"  stroke-width="0.3">20</text>
<line x1="320.8" y1="71.0" x2="323.3" y2="71.0" stroke="#000" stroke-width="1.2"/>
<text x="316.3" y="73.216" font-size="7.6" text-anchor="end" fill="#000" stroke="#000" font-family="Liberation Sans, sans-serif" font-weight="bold" stroke-linejoin="round"  stroke-width="0.3">40</text>
<line x1="320.8" y1="53.699999999999996" x2="323.3" y2="53.699999999999996" stroke="#000" stroke-width="1.2"/>
<text x="316.3" y="56.224000000000004" font-size="7.6" text-anchor="end" fill="#000" stroke="#000" font-family="Liberation Sans, sans-serif" font-weight="bold" stroke-linejoin="round"  stroke-width="0.3">60</text>
<line x1="320.8" y1="36.39999999999999" x2="323.3" y2="36.39999999999999" stroke="#000" stroke-width="1.2"/>
<text x="316.3" y="39.232" font-size="7.6" text-anchor="end" fill="#000" stroke="#000" font-family="Liberation Sans, sans-serif" font-weight="bold" stroke-linejoin="round"  stroke-width="0.3">80</text>
<line x1="320.8" y1="19.099999999999994" x2="323.3" y2="19.099999999999994" stroke="#000" stroke-width="1.2"/>
<text x="316.3" y="22.23999999999999" font-size="7.6" text-anchor="end" fill="#000" stroke="#000" font-family="Liberation Sans, sans-serif" font-weight="bold" stroke-linejoin="round"  stroke-width="0.3">100</text>
<line x1="320.8" y1="1.7999999999999972" x2="323.3" y2="1.7999999999999972" stroke="#000" stroke-width="1.2"/>
<text x="316.3" y="5.248000000000002" font-size="7.6" text-anchor="end" fill="#000" stroke="#000" font-family="Liberation Sans, sans-serif" font-weight="bold" stroke-linejoin="round"  stroke-width="0.3">120</text>
<text transform="translate(299.5,53.8) rotate(-90) scale(1.0,1)" font-size="7.5" text-anchor="middle" fill="#000" stroke="#000" stroke-width="0.3" font-family="Liberation Sans, sans-serif" font-weight="bold" stroke-linejoin="round">Adhesion %</text>
<line x1="385" y1="105.6" x2="385" y2="103.1" stroke="#000" stroke-width="1.2"/>
<line x1="449.25" y1="105.6" x2="449.25" y2="103.1" stroke="#000" stroke-width="1.2"/>
<line x1="513.7" y1="105.6" x2="513.7" y2="103.1" stroke="#000" stroke-width="1.2"/>
<line x1="342.95" y1="11.0" x2="342.95" y2="18.75" stroke="#000" stroke-width="1.5"/>
<line x1="340.34999999999997" y1="11.0" x2="345.55" y2="11.0" stroke="#000" stroke-width="1.5"/>
<rect x="334.45" y="19.45" width="17.70" height="86.15" fill="#fff" stroke="#000" stroke-width="1.8"/>
<rect x="352.15" y="19.25" width="18.40" height="86.35" fill="#000"/>
<line x1="361.35" y1="9.15" x2="361.35" y2="19.25" stroke="#000" stroke-width="1.5"/>
<line x1="358.75" y1="9.15" x2="363.95000000000005" y2="9.15" stroke="#000" stroke-width="1.5"/>
<text x="352.5" y="116.7" font-size="7.5" text-anchor="middle" fill="#000" stroke="#000" font-family="Liberation Sans, sans-serif" font-weight="bold" stroke-linejoin="round"  stroke-width="0.12">IgG</text>
<line x1="407.2" y1="72.5" x2="407.2" y2="76.25" stroke="#000" stroke-width="1.5"/>
<line x1="404.59999999999997" y1="72.5" x2="409.8" y2="72.5" stroke="#000" stroke-width="1.5"/>
<rect x="398.70" y="76.95" width="17.70" height="28.65" fill="#fff" stroke="#000" stroke-width="1.8"/>
<rect x="416.40" y="61.25" width="18.40" height="44.35" fill="#000"/>
<line x1="425.6" y1="47.9" x2="425.6" y2="61.25" stroke="#000" stroke-width="1.5"/>
<line x1="423.0" y1="47.9" x2="428.20000000000005" y2="47.9" stroke="#000" stroke-width="1.5"/>
<text x="407.5" y="63.650000000000006" font-size="9" text-anchor="middle" fill="#000" stroke="#000" font-family="Liberation Sans, sans-serif" font-weight="bold" stroke-linejoin="round"  stroke-width="0.3">*</text>
<text x="425.90000000000003" y="40.650000000000006" font-size="9" text-anchor="middle" fill="#000" stroke="#000" font-family="Liberation Sans, sans-serif" font-weight="bold" stroke-linejoin="round"  stroke-width="0.3">*</text>
<text x="411.7" y="116.7" font-size="7.5" text-anchor="middle" fill="#000" stroke="#000" font-family="Liberation Sans, sans-serif" font-weight="bold" stroke-linejoin="round"  stroke-width="0.12">α5β1</text>
<line x1="471.7" y1="14.75" x2="471.7" y2="22" stroke="#000" stroke-width="1.5"/>
<line x1="469.09999999999997" y1="14.75" x2="474.3" y2="14.75" stroke="#000" stroke-width="1.5"/>
<rect x="463.20" y="22.70" width="17.70" height="82.90" fill="#fff" stroke="#000" stroke-width="1.8"/>
<rect x="480.90" y="24.25" width="18.40" height="81.35" fill="#000"/>
<line x1="490.1" y1="18.4" x2="490.1" y2="24.25" stroke="#000" stroke-width="1.5"/>
<line x1="487.5" y1="18.4" x2="492.70000000000005" y2="18.4" stroke="#000" stroke-width="1.5"/>
<text x="477" y="116.7" font-size="7.5" text-anchor="middle" fill="#000" stroke="#000" font-family="Liberation Sans, sans-serif" font-weight="bold" stroke-linejoin="round"  stroke-width="0.12">αIIbβ3</text>
<rect x="383.90" y="3.50" width="4.30" height="4.40" fill="#fff" stroke="#000" stroke-width="1.6"/>
<text x="390.6" y="9.0" font-size="7.6" text-anchor="start" fill="#000" stroke="#000" font-family="Liberation Sans, sans-serif" font-weight="bold" stroke-linejoin="round"  stroke-width="0.3">FN</text>
<rect x="383.20" y="13.60" width="5.50" height="5.10" fill="#000"/>
<text transform="translate(390.7,18.0) scale(1.04,1)" font-size="7.6" text-anchor="start" fill="#000" stroke="#000" font-family="Liberation Sans, sans-serif" font-weight="bold" stroke-linejoin="round"  stroke-width="0.3">TGFBIp</text>
<text x="289.4" y="147.8" font-size="14.6" text-anchor="start" fill="#000" stroke="#000" font-family="Liberation Sans, sans-serif" font-weight="bold" stroke-linejoin="round"  stroke-width="0.3">F</text>
<line x1="320.6" y1="139.7" x2="320.6" y2="251.85" stroke="#000" stroke-width="1.8"/>
<line x1="319.70000000000005" y1="250.9" x2="519.5" y2="250.9" stroke="#000" stroke-width="1.9"/>
<line x1="320.6" y1="250.9" x2="323.1" y2="250.9" stroke="#000" stroke-width="1.2"/>
<text x="316.0" y="254.45" font-size="7.6" text-anchor="end" fill="#000" stroke="#000" font-family="Liberation Sans, sans-serif" font-weight="bold" stroke-linejoin="round"  stroke-width="0.3">0</text>
<line x1="320.6" y1="228.8" x2="323.1" y2="228.8" stroke="#000" stroke-width="1.2"/>
<text x="316.0" y="231.88" font-size="7.6" text-anchor="end" fill="#000" stroke="#000" font-family="Liberation Sans, sans-serif" font-weight="bold" stroke-linejoin="round"  stroke-width="0.3">20</text>
<line x1="320.6" y1="206.7" x2="323.1" y2="206.7" stroke="#000" stroke-width="1.2"/>
<text x="316.0" y="209.31" font-size="7.6" text-anchor="end" fill="#000" stroke="#000" font-family="Liberation Sans, sans-serif" font-weight="bold" stroke-linejoin="round"  stroke-width="0.3">40</text>
<line x1="320.6" y1="184.60000000000002" x2="323.1" y2="184.60000000000002" stroke="#000" stroke-width="1.2"/>
<text x="316.0" y="186.73999999999998" font-size="7.6" text-anchor="end" fill="#000" stroke="#000" font-family="Liberation Sans, sans-serif" font-weight="bold" stroke-linejoin="round"  stroke-width="0.3">60</text>
<line x1="320.6" y1="162.5" x2="323.1" y2="162.5" stroke="#000" stroke-width="1.2"/>
<text x="316.0" y="164.17" font-size="7.6" text-anchor="end" fill="#000" stroke="#000" font-family="Liberation Sans, sans-serif" font-weight="bold" stroke-linejoin="round"  stroke-width="0.3">80</text>
<line x1="320.6" y1="140.4" x2="323.1" y2="140.4" stroke="#000" stroke-width="1.2"/>
<text x="316.0" y="141.59999999999997" font-size="7.6" text-anchor="end" fill="#000" stroke="#000" font-family="Liberation Sans, sans-serif" font-weight="bold" stroke-linejoin="round"  stroke-width="0.3">100</text>
<text transform="translate(299.3,196) rotate(-90) scale(1.1,1)" font-size="7.5" text-anchor="middle" fill="#000" stroke="#000" stroke-width="0.3" font-family="Liberation Sans, sans-serif" font-weight="bold" stroke-linejoin="round">Pixel/cell</text>
<line x1="386.75" y1="250.9" x2="386.75" y2="248.4" stroke="#000" stroke-width="1.2"/>
<line x1="452.5" y1="250.9" x2="452.5" y2="248.4" stroke="#000" stroke-width="1.2"/>
<line x1="518.8" y1="250.9" x2="518.8" y2="248.4" stroke="#000" stroke-width="1.2"/>
<line x1="343.95" y1="230.0" x2="343.95" y2="233.8" stroke="#000" stroke-width="1.5"/>
<line x1="341.34999999999997" y1="230.0" x2="346.55" y2="230.0" stroke="#000" stroke-width="1.5"/>
<rect x="334.95" y="234.50" width="18.70" height="16.40" fill="#fff" stroke="#000" stroke-width="1.8"/>
<rect x="353.65" y="165.00" width="19.40" height="85.90" fill="#000"/>
<line x1="363.35" y1="155.8" x2="363.35" y2="165" stroke="#000" stroke-width="1.5"/>
<line x1="360.75" y1="155.8" x2="365.95000000000005" y2="155.8" stroke="#000" stroke-width="1.5"/>
<text x="353.5" y="261" font-size="7.5" text-anchor="middle" fill="#000" stroke="#000" font-family="Liberation Sans, sans-serif" font-weight="bold" stroke-linejoin="round"  stroke-width="0.12">IgG</text>
<line x1="410.2" y1="232.5" x2="410.2" y2="235" stroke="#000" stroke-width="1.5"/>
<line x1="407.59999999999997" y1="232.5" x2="412.8" y2="232.5" stroke="#000" stroke-width="1.5"/>
<rect x="401.20" y="235.70" width="18.70" height="15.20" fill="#fff" stroke="#000" stroke-width="1.8"/>
<rect x="419.90" y="218.75" width="19.40" height="32.15" fill="#000"/>
<line x1="429.6" y1="214.05" x2="429.6" y2="218.75" stroke="#000" stroke-width="1.5"/>
<line x1="427.0" y1="214.05" x2="432.20000000000005" y2="214.05" stroke="#000" stroke-width="1.5"/>
<text x="428.6" y="204.64999999999998" font-size="9" text-anchor="middle" fill="#000" stroke="#000" font-family="Liberation Sans, sans-serif" font-weight="bold" stroke-linejoin="round"  stroke-width="0.3">*</text>
<text x="419.5" y="261" font-size="7.5" text-anchor="middle" fill="#000" stroke="#000" font-family="Liberation Sans, sans-serif" font-weight="bold" stroke-linejoin="round"  stroke-width="0.12">α5β1</text>
<line x1="475.95" y1="235.0" x2="475.95" y2="237" stroke="#000" stroke-width="1.5"/>
<line x1="473.34999999999997" y1="235.0" x2="478.55" y2="235.0" stroke="#000" stroke-width="1.5"/>
<rect x="466.95" y="237.70" width="18.70" height="13.20" fill="#fff" stroke="#000" stroke-width="1.8"/>
<rect x="485.65" y="226.75" width="19.40" height="24.15" fill="#000"/>
<line x1="495.35" y1="222.3" x2="495.35" y2="226.75" stroke="#000" stroke-width="1.5"/>
<line x1="492.75" y1="222.3" x2="497.95000000000005" y2="222.3" stroke="#000" stroke-width="1.5"/>
<text x="494.35" y="214.14999999999998" font-size="9" text-anchor="middle" fill="#000" stroke="#000" font-family="Liberation Sans, sans-serif" font-weight="bold" stroke-linejoin="round"  stroke-width="0.3">*</text>
<text x="488" y="261" font-size="7.5" text-anchor="middle" fill="#000" stroke="#000" font-family="Liberation Sans, sans-serif" font-weight="bold" stroke-linejoin="round"  stroke-width="0.12">αIIbβ3</text>
<rect x="391.50" y="153.80" width="4.40" height="4.40" fill="#fff" stroke="#000" stroke-width="1.6"/>
<text x="399.4" y="158.5" font-size="7.6" text-anchor="start" fill="#000" stroke="#000" font-family="Liberation Sans, sans-serif" font-weight="bold" stroke-linejoin="round"  stroke-width="0.3">FN</text>
<rect x="391.10" y="164.10" width="5.10" height="4.90" fill="#000"/>
<text transform="translate(399.6,168.3) scale(1.05,1)" font-size="7.6" text-anchor="start" fill="#000" stroke="#000" font-family="Liberation Sans, sans-serif" font-weight="bold" stroke-linejoin="round"  stroke-width="0.3">TGFBIp</text>
</g>
</svg>
</body></html>
